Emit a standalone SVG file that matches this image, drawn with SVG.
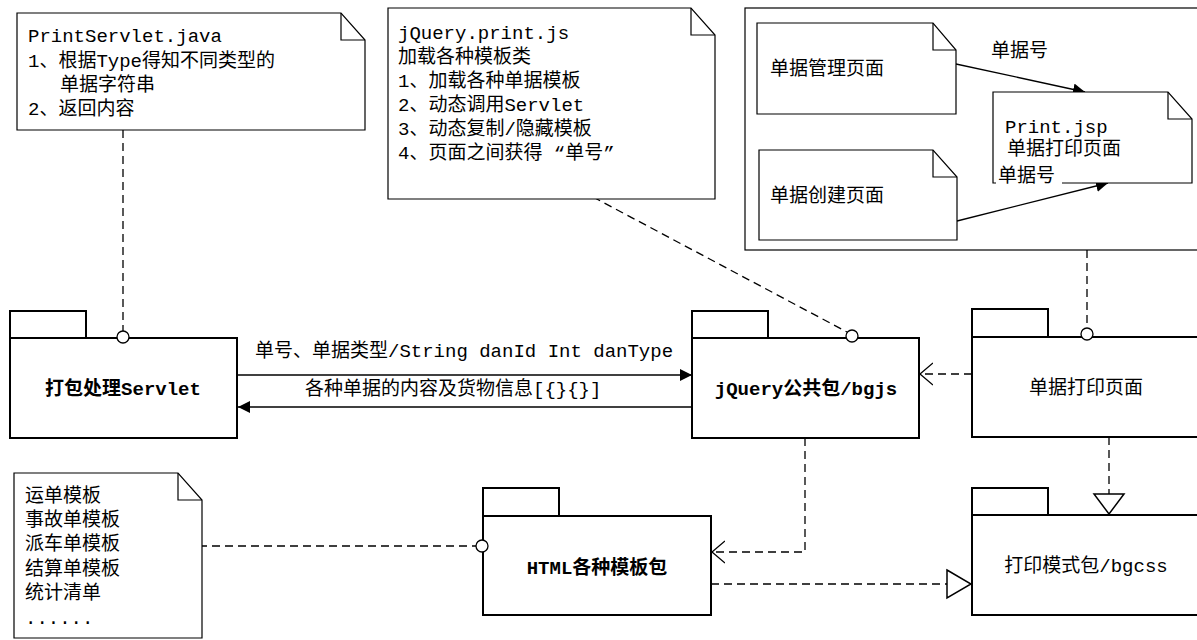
<svg xmlns="http://www.w3.org/2000/svg" width="1197" height="640" viewBox="0 0 1197 640">
<defs>
<style>
.note{fill:#fff;stroke:#000;stroke-width:1.2}
.fold{fill:none;stroke:#000;stroke-width:1.2}
.pkg{fill:#fff;stroke:#000;stroke-width:2}
.t{font-family:"Liberation Mono","Noto Sans CJK SC",monospace;font-size:19px;fill:#000}
.b{font-family:"Liberation Mono","Noto Sans CJK SC",monospace;font-size:19px;font-weight:bold;fill:#000;text-anchor:middle}
.m{font-family:"Liberation Mono","Noto Sans CJK SC",monospace;font-size:19px;fill:#000;text-anchor:middle}
.ln{fill:none;stroke:#000;stroke-width:1.3}
.dash{fill:none;stroke:#000;stroke-width:1.3;stroke-dasharray:8 5}
.sock{fill:#fff;stroke:#000;stroke-width:1.3}
</style>
<marker id="fill" viewBox="0 0 12 12" refX="12" refY="6" markerWidth="12" markerHeight="12" markerUnits="userSpaceOnUse" orient="auto">
<path d="M0,0 L12,6 L0,12 Z" fill="#000"/>
</marker>
<marker id="open" viewBox="0 0 14 24" refX="13" refY="12" markerWidth="14" markerHeight="24" markerUnits="userSpaceOnUse" orient="auto">
<path d="M0,1 L13,12 L0,23" fill="none" stroke="#000" stroke-width="1.3"/>
</marker>
<marker id="tri" viewBox="0 0 26 32" refX="25" refY="16" markerWidth="26" markerHeight="32" markerUnits="userSpaceOnUse" orient="auto">
<path d="M1,2 L25,16 L1,30 Z" fill="#fff" stroke="#000" stroke-width="1.5"/>
</marker>
<marker id="triv" viewBox="0 0 22 34" refX="21" refY="17" markerWidth="22" markerHeight="34" markerUnits="userSpaceOnUse" orient="auto">
<path d="M1,2 L21,17 L1,32 Z" fill="#fff" stroke="#000" stroke-width="1.5"/>
</marker>
</defs>
<rect width="1197" height="640" fill="#fff"/>

<g id="connectors">
<line class="dash" x1="123" y1="130" x2="123" y2="332"/>
<line class="dash" x1="593" y1="197" x2="847" y2="332"/>
<line class="dash" x1="1087" y1="250" x2="1087" y2="328"/>
<line class="ln" x1="237" y1="375" x2="692" y2="375" marker-end="url(#fill)"/>
<line class="ln" x1="692" y1="407" x2="238" y2="407" marker-end="url(#fill)"/>
<line class="dash" x1="972" y1="374" x2="920" y2="374" marker-end="url(#open)"/>
<polyline class="dash" points="805,438 805,552 712,552" marker-end="url(#open)"/>
<line class="dash" x1="1109" y1="437" x2="1109" y2="514" marker-end="url(#triv)"/>
<line class="dash" x1="711" y1="584" x2="971" y2="584" marker-end="url(#tri)"/>
<line class="dash" x1="199" y1="546" x2="476" y2="546"/>
<line class="ln" x1="956" y1="64" x2="1085" y2="92" marker-end="url(#fill)"/>
<line class="ln" x1="957" y1="221" x2="1108" y2="183" marker-end="url(#fill)"/>
<text class="t" x="255" y="357">单号、单据类型/String danId Int danType</text>
<text class="t" x="305" y="395">各种单据的内容及货物信息[{}{}]</text>
<text class="t" x="991" y="57">单据号</text>
</g>

<g id="note-printservlet">
<path class="note" d="M17,13 H341 L365,40 V130 H17 Z"/>
<path class="fold" d="M341,13 V40 H365"/>
<text class="t" x="28" y="42">PrintServlet.java</text>
<text class="t" x="28" y="67">1、根据Type得知不同类型的</text>
<text class="t" x="60" y="91">单据字符串</text>
<text class="t" x="28" y="115">2、返回内容</text>
</g>

<g id="note-jquery">
<path class="note" d="M388,8 H691 L715,35 V199 H388 Z"/>
<path class="fold" d="M691,8 V35 H715"/>
<text class="t" x="398" y="39">jQuery.print.js</text>
<text class="t" x="398" y="63">加载各种模板类</text>
<text class="t" x="398" y="87">1、加载各种单据模板</text>
<text class="t" x="398" y="111">2、动态调用Servlet</text>
<text class="t" x="398" y="135">3、动态复制/隐藏模板</text>
<text class="t" x="398" y="159">4、页面之间获得 “单号”</text>
</g>

<g id="frame-pages">
<rect x="745" y="8" width="470" height="242" fill="none" stroke="#000" stroke-width="1.2"/>
</g>

<g id="note-manage">
<path class="note" d="M757,23 H933 L956,50 V114 H757 Z"/>
<path class="fold" d="M933,23 V50 H956"/>
<text class="t" x="770" y="75">单据管理页面</text>
</g>

<g id="note-create">
<path class="note" d="M759,150 H933 L957,177 V240 H759 Z"/>
<path class="fold" d="M933,150 V177 H957"/>
<text class="t" x="770" y="202">单据创建页面</text>
</g>

<g id="note-printjsp">
<path class="note" d="M993,92 H1168 L1192,119 V183 H993 Z"/>
<path class="fold" d="M1168,92 V119 H1192"/>
<text class="t" x="1005" y="133">Print.jsp</text>
<text class="t" x="1007" y="155">单据打印页面</text>
<rect x="996" y="166" width="66" height="20" fill="#fff"/>
<text class="t" x="998" y="182">单据号</text>
</g>

<g id="note-templates">
<path class="note" d="M14,473 H178 L202,500 V638 H14 Z"/>
<path class="fold" d="M178,473 V500 H202"/>
<text class="t" x="25" y="502">运单模板</text>
<text class="t" x="25" y="526">事故单模板</text>
<text class="t" x="25" y="550">派车单模板</text>
<text class="t" x="25" y="575">结算单模板</text>
<text class="t" x="25" y="599">统计清单</text>
<text class="t" x="25" y="624">......</text>
</g>

<g id="pkg-servlet">
<rect class="pkg" x="10" y="311" width="76" height="27"/>
<rect class="pkg" x="10" y="338" width="227" height="100"/>
<circle class="sock" cx="123" cy="337" r="6"/>
<text class="b" x="123" y="395">打包处理Servlet</text>
</g>

<g id="pkg-jquery">
<rect class="pkg" x="692" y="311" width="76" height="27"/>
<rect class="pkg" x="692" y="338" width="227" height="100"/>
<circle class="sock" cx="852" cy="336" r="6"/>
<text class="b" x="806" y="395">jQuery公共包/bgjs</text>
</g>

<g id="pkg-print-page">
<rect class="pkg" x="972" y="309" width="76" height="28"/>
<rect class="pkg" x="972" y="337" width="240" height="100"/>
<circle class="sock" cx="1087" cy="334" r="6"/>
<text class="m" x="1086" y="394">单据打印页面</text>
</g>

<g id="pkg-css">
<rect class="pkg" x="972" y="488" width="76" height="27"/>
<rect class="pkg" x="972" y="515" width="240" height="100"/>
<text class="m" x="1086" y="572">打印模式包/bgcss</text>
</g>

<g id="pkg-html">
<rect class="pkg" x="483" y="488" width="76" height="28"/>
<rect class="pkg" x="483" y="516" width="228" height="99"/>
<circle class="sock" cx="482" cy="546" r="6"/>
<text class="b" x="597" y="574">HTML各种模板包</text>
</g>
</svg>
